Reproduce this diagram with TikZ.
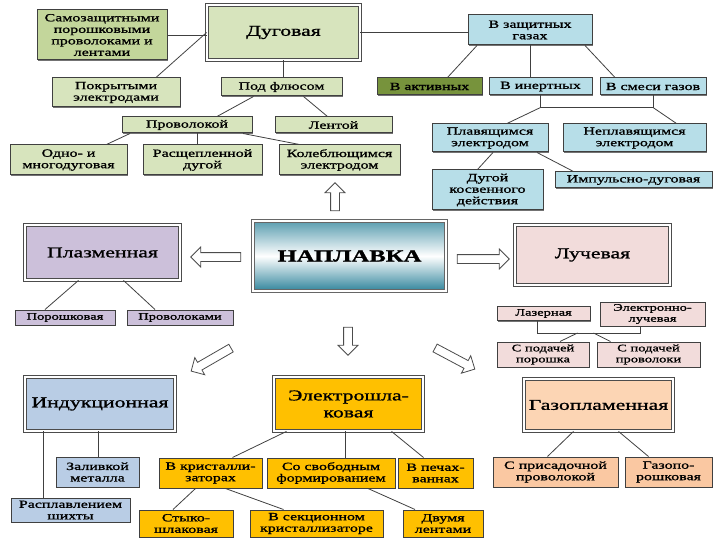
\documentclass[tikz,border=0pt]{standalone}
\usepackage{fontspec}
\setmainfont{Liberation Serif}[FakeStretch=1.45, FakeBold=1.2]
\usepackage{tikz}
\usetikzlibrary{shapes.arrows, shadows}

\definecolor{dgreen}{HTML}{D7E4BD}
\definecolor{sgreen}{HTML}{C3D69B}
\definecolor{agreen}{HTML}{77933C}
\definecolor{lblue}{HTML}{B7DEE8}
\definecolor{tealx}{HTML}{31859C}
\definecolor{lilac}{HTML}{CCC0DA}
\definecolor{lpink}{HTML}{F2DCDB}
\definecolor{indblue}{HTML}{B9CDE5}
\definecolor{goldx}{HTML}{FFC000}
\definecolor{peach}{HTML}{FCD5B4}
\definecolor{peachd}{HTML}{FAC8A2}

\begin{document}
\begin{tikzpicture}[x=1pt, y=1pt,
    box/.style={draw=black!75, line width=1pt, inner sep=1pt, align=center,
      general shadow={fill=black!55, shadow xshift=1pt, shadow yshift=-1pt},
      font=\fontsize{11}{11.5}\selectfont},
    tight/.style={font=\fontsize{10}{11}\selectfont},
    head/.style={draw=black!70, line width=0.8pt, double=white, double distance=2pt,
      align=center, font=\fontsize{15}{17}\selectfont},
    link/.style={black!75, line width=0.8pt},
    hollow/.style={single arrow, draw=black!70, fill=white, line width=0.8pt,
      inner sep=4pt, single arrow head extend=5.5pt}]
  \useasboundingbox (0,0) rectangle (720,-540);

  % Dugovaya
  \node[box, fill=sgreen, minimum width=130, minimum height=50] (samo) at (102,-35) {Самозащитными\\порошковыми\\проволоками и\\лентами};
  \node[head, fill=dgreen, minimum width=153, minimum height=55] (dug) at (283.5,-32.5) {Дуговая};
  \node[box, fill=dgreen, minimum width=128, minimum height=29] (pokr) at (116,-92.5) {Покрытыми\\электродами};
  \node[box, fill=dgreen, minimum width=121, minimum height=18] (flus) at (281.5,-87) {Под флюсом};
  \node[box, fill=dgreen, minimum width=130, minimum height=16] (prov) at (187,-125) {Проволокой};
  \node[box, fill=dgreen, minimum width=117, minimum height=16] (lent) at (333.5,-125) {Лентой};
  \node[box, fill=dgreen, minimum width=117, minimum height=30] (odno) at (68.5,-160) {Одно- и\\многодуговая};
  \node[box, fill=dgreen, minimum width=119, minimum height=30] (rasch) at (202.5,-160) {Расщепленной\\дугой};
  \node[box, fill=dgreen, minimum width=121, minimum height=30] (koleb) at (339.5,-160) {Колеблющимся\\электродом};

  \draw[link] (samo.east) -- (samo.east -| dug.west);
  \draw[link] ([xshift=40]pokr.north) -- (dug.west);
  \draw[link] (dug.south) -- (dug.south |- flus.north);
  \draw[link] ([xshift=-28]flus.south) -- ([xshift=30]prov.north);
  \draw[link] ([xshift=22]flus.south) -- ([xshift=-6]lent.north);
  \draw[link] ([xshift=-57]prov.south) -- ([xshift=38]odno.north);
  \draw[link] ([xshift=10]prov.south) -- ([xshift=10]prov.south |- rasch.north);
  \draw[link] ([xshift=56]prov.south) -- ([xshift=-40]koleb.north);

  % Gases
  \node[box, fill=lblue, minimum width=124, minimum height=30] (zasch) at (530,-30) {В защитных\\газах};
  \node[box, fill=agreen, minimum width=105, minimum height=17] (aktiv) at (429.5,-86.5) {В активных};
  \node[box, fill=lblue, minimum width=103, minimum height=17] (inert) at (540.5,-86.5) {В инертных};
  \node[box, fill=lblue, minimum width=106, minimum height=17] (smes) at (653,-86.5) {В смеси газов};
  \node[box, fill=lblue, minimum width=116, minimum height=28] (plav) at (490,-138) {Плавящимся\\электродом};
  \node[box, fill=lblue, minimum width=143, minimum height=28] (neplav) at (634.5,-138) {Неплавящимся\\электродом};
  \node[box, fill=lblue, minimum width=111, minimum height=40] (kosv) at (487.5,-190) {Дугой\\косвенного\\действия};
  \node[box, fill=lblue, minimum width=157, minimum height=16] (impuls) at (633.5,-180) {Импульсно-дуговая};

  \draw[link] (dug.east) -- (dug.east -| zasch.west);
  \draw[link] ([xshift=-53]zasch.south) -- ([xshift=18]aktiv.north);
  \draw[link] (zasch.south) -- (zasch.south |- inert.north);
  \draw[link] ([xshift=55]zasch.south) -- ([xshift=-38]smes.north);
  \draw[link] (inert.south) -- ++(0,-12) coordinate (gbus) -| (smes.south);
  \coordinate (gbusr) at (gbus -| smes.south);
  \draw[link] (gbus) -- ([xshift=17]plav.north);
  \draw[link] (gbusr) -- ([xshift=42]neplav.north);
  \draw[link] ([xshift=3]plav.south) -- ([xshift=-10]kosv.north);
  \draw[link] ([xshift=47]plav.south) -- ([xshift=-60]impuls.north);

  % Naplavka
  \node[draw=black!60, line width=0.8pt, double=white, double distance=2pt,
    top color=tealx!80, bottom color=tealx, middle color=white,
    minimum width=193, minimum height=70,
    font=\fontsize{17}{19}\selectfont\bfseries] (napl) at (349.5,-256) {НАПЛАВКА};
  \foreach \n/\x/\y/\l/\r in {up/335/-199/28/90, left/218/-257/50/180,
      right/481/-259/52/0, down/348/-339/28/-90,
      dl/213/-358.5/46/210, dr/453/-357.5/45/-28} {
      \node[hollow, minimum height=\l, rotate=\r] (arr\n) at (\x,\y) {};
    }

  % Plazmennaya
  \node[head, fill=lilac, minimum width=155, minimum height=55] (plaz) at (102.5,-252.5) {Плазменная};
  \node[box, tight, fill=lilac, minimum width=100, minimum height=15] (porosh) at (65,-317.5) {Порошковая};
  \node[box, tight, fill=lilac, minimum width=106, minimum height=15] (provolokami) at (180,-317.5) {Проволоками};
  \draw[link] ([xshift=-24]plaz.south) -- ([xshift=-20]porosh.north);
  \draw[link] ([xshift=21]plaz.south) -- ([xshift=-25]provolokami.north);

  % Luchevaya
  \node[head, fill=lpink, minimum width=155, minimum height=60] (luch) at (592.5,-255) {Лучевая};
  \node[box, tight, fill=lpink, minimum width=93, minimum height=14] (lazer) at (543.5,-313.5) {Лазерная};
  \node[box, tight, fill=lpink, minimum width=105, minimum height=24] (elektr) at (652.5,-314) {Электронно-\\лучевая};
  \node[box, tight, fill=lpink, minimum width=92, minimum height=25] (spor) at (543,-354.5) {С подачей\\порошка};
  \node[box, tight, fill=lpink, minimum width=103, minimum height=25] (sprov) at (648.5,-354.5) {С подачей\\проволоки};
  \draw[link] ([xshift=-6]lazer.south) -- ++(0,-12) coordinate (lbus) -| ([xshift=-12]elektr.south);
  \draw[link] ([xshift=40]lbus) -- ([xshift=17]spor.north);
  \draw[link] ([xshift=56]lbus) -- ([xshift=-38]sprov.north);

  % Indukcionnaya
  \node[head, fill=indblue, minimum width=150, minimum height=54] (ind) at (100,-404) {Индукционная};
  \node[box, fill=indblue, minimum width=83, minimum height=30] (zaliv) at (97.5,-472) {Заливкой\\металла};
  \node[box, fill=indblue, minimum width=119, minimum height=24] (rasplav) at (70.5,-510) {Расплавлением\\шихты};
  \draw[link] ([xshift=-57]ind.south) -- ([xshift=-57]ind.south |- rasplav.north);
  \draw[link] ([xshift=-2]ind.south) -- ([xshift=-2]ind.south |- zaliv.north);

  % Elektroshlakovaya
  \node[head, fill=goldx, minimum width=149, minimum height=54] (elsh) at (348.5,-404) {Электрошла-\\ковая};
  \node[box, fill=goldx, minimum width=103, minimum height=30] (kristal) at (210.5,-473) {В кристалли-\\заторах};
  \node[box, fill=goldx, minimum width=128, minimum height=30] (svobod) at (331,-473) {Со свободным\\формированием};
  \node[box, fill=goldx, minimum width=75, minimum height=30] (pech) at (435.5,-473) {В печах-\\ваннах};
  \node[box, fill=goldx, minimum width=94, minimum height=27] (styk) at (186,-523.5) {Стыко-\\шлаковая};
  \node[box, fill=goldx, minimum width=133, minimum height=27] (sekc) at (316.5,-523.5) {В секционном\\кристаллизаторе};
  \node[box, fill=goldx, minimum width=80, minimum height=27] (dvum) at (443,-523.5) {Двумя\\лентами};
  \draw[link] ([xshift=-62]elsh.south) -- ([xshift=22]kristal.north);
  \draw[link] ([xshift=-3.5]elsh.south) -- ([xshift=-3.5]elsh.south |- svobod.north);
  \draw[link] ([xshift=43]elsh.south) -- ([xshift=-12]pech.north);
  \draw[link] ([xshift=-15]kristal.south) -- ([xshift=-13]styk.north);
  \draw[link] ([xshift=15]kristal.south) -- ([xshift=-33]sekc.north);
  \draw[link] ([xshift=37]svobod.south) -- ([xshift=-28]dvum.north);

  % Gazoplamennaya
  \node[head, fill=peach, minimum width=149, minimum height=52] (gaz) at (598.5,-405) {Газопламенная};
  \node[box, fill=peachd, minimum width=125, minimum height=30] (prisad) at (555.5,-472) {С присадочной\\проволокой};
  \node[box, fill=peachd, minimum width=87, minimum height=30] (gazopor) at (668.5,-472) {Газопо-\\рошковая};
  \draw[link] ([xshift=-25]gaz.south) -- ([xshift=-8]prisad.north);
  \draw[link] ([xshift=20]gaz.south) -- ([xshift=-20]gazopor.north);
\end{tikzpicture}
\end{document}
